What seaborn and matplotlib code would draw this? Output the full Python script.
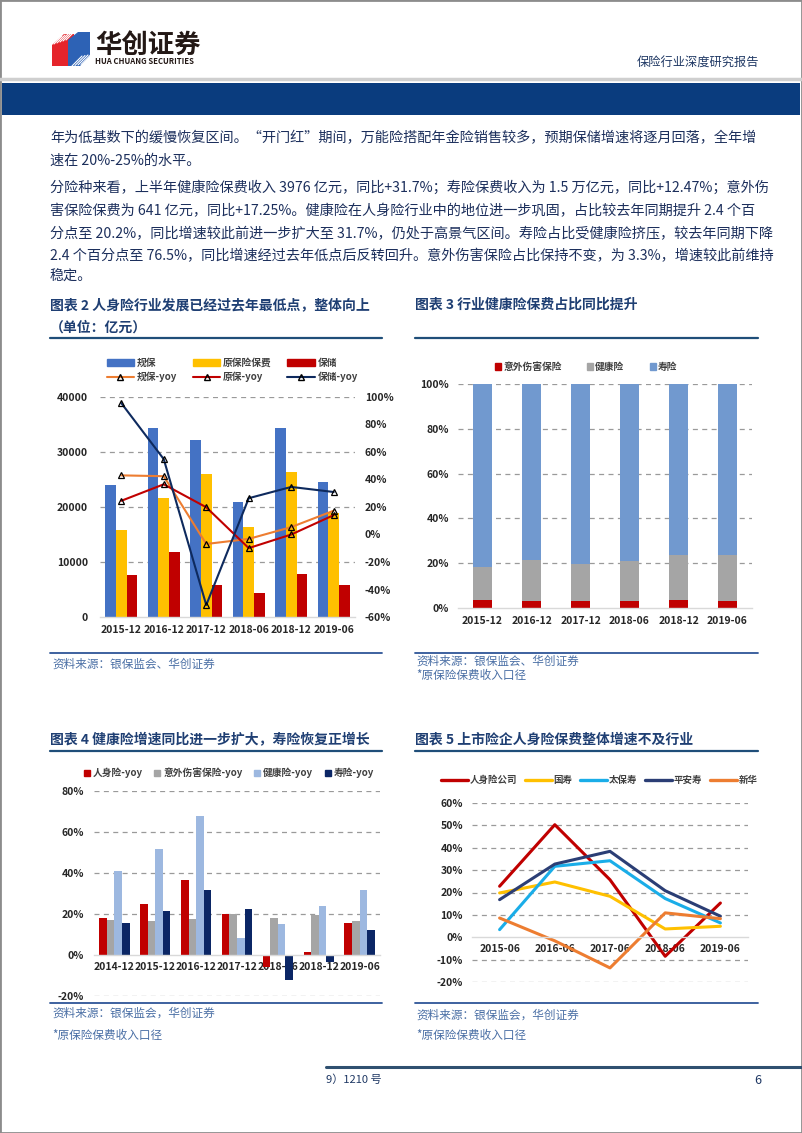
import numpy as np
import pandas as pd
import seaborn as sns
import matplotlib.pyplot as plt
from matplotlib.patches import Patch, Rectangle, Polygon
from matplotlib.lines import Line2D

sns.set_theme(style='white')
plt.rcParams['font.family'] = ['Noto Sans CJK SC', 'DejaVu Sans']
plt.rcParams['axes.unicode_minus'] = False

# ---- chart 2: 人身险行业 ----
periods2 = ['2015-12', '2016-12', '2017-12', '2018-06', '2018-12', '2019-06']
guibao = [24000, 34300, 32200, 20900, 34400, 24600]
yuanbao = [15800, 21700, 26000, 16300, 26400, 18900]
baochu = [7600, 11800, 5800, 4400, 7800, 5800]
guibao_yoy = [43.0, 42.4, -6.9, -3.2, 5.4, 17.3]
yuanbao_yoy = [24.5, 36.5, 19.8, -9.9, 0.0, 14.1]
baochu_yoy = [95.6, 54.8, -51.3, 26.4, 34.6, 30.9]

# ---- chart 3: 占比 ----
periods3 = ['2015-12', '2016-12', '2017-12', '2018-06', '2018-12', '2019-06']
share_acc = [3.7, 3.0, 3.0, 3.0, 3.7, 3.3]
share_health = [14.6, 18.3, 16.5, 17.8, 20.1, 20.2]
share_life = [81.7, 78.7, 80.5, 79.2, 76.2, 76.5]

# ---- chart 4: 分险种增速 ----
periods4 = ['2014-12', '2015-12', '2016-12', '2017-12', '2018-06', '2018-12', '2019-06']
renshen_yoy = [18.1, 25.0, 36.4, 20.1, -6.0, 1.6, 15.8]
yiwai_yoy = [17.1, 16.8, 17.6, 20.1, 18.0, 19.3, 16.8]
jiankang_yoy = [41.0, 51.9, 67.8, 8.3, 15.0, 24.0, 31.5]
shouxian_yoy = [15.5, 21.4, 31.5, 22.5, -12.2, -3.6, 12.2]

# ---- chart 5: 上市险企 ----
periods5 = ['2015-06', '2016-06', '2017-06', '2018-06', '2019-06']
co_all = [22.8, 50.3, 25.7, -8.5, 15.3]
guoshou = [19.8, 24.7, 18.3, 3.7, 4.9]
taibao = [3.4, 31.7, 34.2, 17.3, 6.4]
pingan = [16.8, 32.7, 38.4, 20.8, 9.4]
xinhua = [8.6, -1.6, -13.7, 10.9, 8.3]

body_lines = [
    '年为低基数下的缓慢恢复区间。“开门红”期间，万能险搭配年金险销售较多，预期保储增速将逐月回落，全年增',
    '速在 20%-25%的水平。',
    '分险种来看，上半年健康险保费收入 3976 亿元，同比+31.7%；寿险保费收入为 1.5 万亿元，同比+12.47%；意外伤',
    '害保险保费为 641 亿元，同比+17.25%。健康险在人身险行业中的地位进一步巩固，占比较去年同期提升 2.4 个百',
    '分点至 20.2%，同比增速较此前进一步扩大至 31.7%，仍处于高景气区间。寿险占比受健康险挤压，较去年同期下降',
    '2.4 个百分点至 76.5%，同比增速经过去年低点后反转回升。意外伤害保险占比保持不变，为 3.3%，增速较此前维持',
    '稳定。',
]
body_y = [138, 161, 188, 211, 234, 256, 277]

C_BLUE, C_YEL, C_RED, C_ORANGE = '#4472C4', '#FFC000', '#C00000', '#ED7D31'
C_NAVY = '#0E2A5E'
C_LIFE, C_GRAY, C_LB, C_NAVY4 = '#7199CF', '#A5A5A5', '#9DB8E0', '#0B2665'
C5 = ['#C00000', '#FFC000', '#1AADE8', '#2B3E75', '#ED7D31']
TITLE_C = '#1F3F73'
TXT_C = '#1C2F5C'
SRC_C = '#4A6FA5'
GRID_C = '#9A9A9A'
TICK_C = '#262626'

W, H = 802, 1133
fig = plt.figure(figsize=(W / 100, H / 100), dpi=100)


def fx(x):
    return x / W


def fy(y):
    return 1 - y / H


def add_ax(l, t, r, b):
    return fig.add_axes([l / W, 1 - b / H, (r - l) / W, (b - t) / H])


def hline(x0, x1, y, color, lw):
    fig.add_artist(Line2D([fx(x0), fx(x1)], [fy(y), fy(y)], color=color, lw=lw,
                          transform=fig.transFigure))


def ftext(x, y, s, **kw):
    fig.text(fx(x), fy(y), s, va='center', **kw)


def style_axis(ax, grid_vals, xpad=5, ypad=6):
    ax.set_axisbelow(True)
    for v in grid_vals:
        ax.axhline(v, color=GRID_C, lw=0.9, ls=(0, (4, 3.5)), zorder=0)
    for s in ['top', 'right', 'left']:
        ax.spines[s].set_visible(False)
    ax.spines['bottom'].set_color('#D9D9D9')
    ax.spines['bottom'].set_linewidth(1)
    ax.tick_params(axis='x', length=0, pad=xpad, labelsize=7.5, colors=TICK_C)
    ax.tick_params(axis='y', length=0, pad=ypad, labelsize=7.5, colors=TICK_C)
    ax.set_xlabel('')
    ax.set_ylabel('')
    for lab in ax.get_xticklabels() + ax.get_yticklabels():
        lab.set_fontweight('bold')


# ================= page frame / header =================
fig.add_artist(Rectangle((0, 0), 1, 1, transform=fig.transFigure, fill=False,
                         edgecolor='#8C8C8C', lw=2))
hline(0, W, 79, '#CFCFCF', 2.5)
fig.add_artist(Rectangle((fx(2), fy(115)), fx(800) - fx(2), fy(83) - fy(115),
                         transform=fig.transFigure, color='#0A3C7E', lw=0))

# logo
logo_red = [(52, 45), (64, 34), (74, 34), (74, 66), (52, 66)]
logo_blue = [(68, 40), (78, 32), (90, 32), (90, 56), (80, 66), (68, 66)]
for pts, col in [(logo_red, '#E5242B'), (logo_blue, '#2D62B5')]:
    fig.add_artist(Polygon([(fx(a), fy(b)) for a, b in pts], closed=True,
                           transform=fig.transFigure, color=col, lw=0))
for k in range(5):
    fig.add_artist(Line2D([fx(54 + 3 * k), fx(62 + 3 * k)], [fy(44 - k), fy(36 - k)],
                          color='white', lw=0.8, transform=fig.transFigure))
    fig.add_artist(Line2D([fx(72 + 3 * k), fx(82 + 3 * k)], [fy(66 - k * 0.5), fy(56 - k * 0.5)],
                          color='white', lw=0.8, transform=fig.transFigure))
ftext(95, 45, '华创证券', fontsize=19, fontweight='bold', color='#231815')
ftext(95, 62, 'HUA CHUANG SECURITIES', fontsize=5.6, fontweight='bold', color='#231815')
ftext(637, 63, '保险行业深度研究报告', fontsize=8.8, color='#1F3864')

# body text
for s, y in zip(body_lines, body_y):
    ftext(50, y, s, fontsize=10.2, color=TXT_C)

# titles and rules
ftext(50, 305, '图表 2 人身险行业发展已经过去年最低点，整体向上', fontsize=10,
      fontweight='bold', color=TITLE_C)
ftext(50, 328, '（单位：亿元）', fontsize=10, fontweight='bold', color=TITLE_C)
ftext(415, 305, '图表 3 行业健康险保费占比同比提升', fontsize=10, fontweight='bold', color=TITLE_C)
ftext(50, 740, '图表 4 健康险增速同比进一步扩大，寿险恢复正增长', fontsize=10,
      fontweight='bold', color=TITLE_C)
ftext(415, 740, '图表 5 上市险企人身险保费整体增速不及行业', fontsize=10,
      fontweight='bold', color=TITLE_C)
hline(50, 382, 338, '#1F4E79', 1.6)
hline(415, 758, 338, '#1F4E79', 1.6)
hline(50, 382, 751, '#1F4E79', 1.6)
hline(415, 758, 751, '#1F4E79', 1.6)
hline(50, 382, 653, '#2E5597', 1.3)
hline(415, 758, 653, '#2E5597', 1.3)
hline(50, 382, 1003, '#2E5597', 1.3)
hline(415, 758, 1003, '#2E5597', 1.3)

ftext(52, 664, '资料来源：银保监会、华创证券', fontsize=8.4, color=SRC_C)
ftext(416, 661, '资料来源：银保监会、华创证券', fontsize=8.4, color=SRC_C)
ftext(416, 676, '*原保险保费收入口径', fontsize=8.4, color=SRC_C)
ftext(52, 1013, '资料来源：银保监会，华创证券', fontsize=8.4, color=SRC_C)
ftext(52, 1035, '*原保险保费收入口径', fontsize=8.4, color=SRC_C)
ftext(416, 1015, '资料来源：银保监会，华创证券', fontsize=8.4, color=SRC_C)
ftext(416, 1035, '*原保险保费收入口径', fontsize=8.4, color=SRC_C)

# footer
hline(326, W, 1067, '#2F5070', 2.2)
ftext(326, 1080, '9）1210 号', fontsize=8, color='#1F3864')
ftext(754, 1080, '6', fontsize=9, color='#1F3864')

# ================= chart 2 =================
ax2 = add_ax(100, 397, 355, 617)
df2 = pd.DataFrame({
    'period': periods2 * 3,
    'value': guibao + yuanbao + baochu,
    'series': ['规保'] * 6 + ['原保险保费'] * 6 + ['保储'] * 6,
})
sns.barplot(data=df2, x='period', y='value', hue='series',
            palette=[C_BLUE, C_YEL, C_RED], width=0.75, saturation=1,
            linewidth=0, legend=False, ax=ax2)
ax2.set_ylim(0, 40000)
ax2.set_yticks([0, 10000, 20000, 30000, 40000],
               labels=['0', '10000', '20000', '30000', '40000'])
style_axis(ax2, [10000, 20000, 30000, 40000], xpad=6, ypad=8.5)

ax2r = ax2.twinx()
for vals, col in [(guibao_yoy, C_ORANGE), (yuanbao_yoy, C_RED), (baochu_yoy, C_NAVY)]:
    sns.pointplot(x=periods2, y=vals, color=col, markers='^', errorbar=None,
                  linewidth=1.5, markersize=4.5, ax=ax2r)
for ln in ax2r.lines:
    ln.set_markerfacecolor('none')
    ln.set_markeredgecolor('black')
    ln.set_markeredgewidth(0.9)
ax2r.set_ylim(-60, 100)
yt = list(range(-60, 101, 20))
ax2r.set_yticks(yt, labels=[f'{v}%' for v in yt])
for s in ax2r.spines.values():
    s.set_visible(False)
ax2r.tick_params(axis='y', length=0, pad=7, labelsize=7.5, colors=TICK_C)
ax2r.set_ylabel('')
ax2r.set_xlabel('')
ax2.set_xlabel('')
for lab in ax2r.get_yticklabels():
    lab.set_fontweight('bold')

h2 = [
    Patch(color=C_BLUE), Line2D([], [], color=C_ORANGE, lw=1.5, marker='^', mfc='none', mec='black', ms=4.5),
    Patch(color=C_YEL), Line2D([], [], color=C_RED, lw=1.5, marker='^', mfc='none', mec='black', ms=4.5),
    Patch(color=C_RED), Line2D([], [], color=C_NAVY, lw=1.5, marker='^', mfc='none', mec='black', ms=4.5),
]
l2 = ['规保', '规保-yoy', '原保险保费', '原保-yoy', '保储', '保储-yoy']
fig.legend(h2, l2, loc='center left', bbox_to_anchor=(fx(102), fy(370)), ncol=3,
           frameon=False, borderpad=0, handlelength=2.8, handleheight=0.7,
           handletextpad=0.3, columnspacing=1.6, labelspacing=0.35,
           prop=dict(size=7, weight='bold'), labelcolor='#404040')

# ================= chart 3 =================
ax3 = add_ax(458, 384, 752, 608)
cum_health = [a + h for a, h in zip(share_acc, share_health)]
cum_life = [c + l for c, l in zip(cum_health, share_life)]
for vals, col in [(cum_life, C_LIFE), (cum_health, C_GRAY), (share_acc, C_RED)]:
    sns.barplot(x=periods3, y=vals, color=col, width=0.38, saturation=1,
                linewidth=0, ax=ax3)
ax3.set_ylim(0, 100)
yt3 = list(range(0, 101, 20))
ax3.set_yticks(yt3, labels=[f'{v}%' for v in yt3])
style_axis(ax3, [20, 40, 60, 80, 100], xpad=6, ypad=6.5)
h3 = [Patch(color=C_RED), Patch(color=C_GRAY), Patch(color=C_LIFE)]
fig.legend(h3, ['意外伤害保险', '健康险', '寿险'], loc='center left',
           bbox_to_anchor=(fx(490), fy(367)), ncol=3, frameon=False, borderpad=0,
           handlelength=0.6, handleheight=0.6, handletextpad=0.25, columnspacing=2.6,
           prop=dict(size=7, weight='bold'), labelcolor='#404040')

# ================= chart 4 =================
ax4 = add_ax(94, 791, 380, 996)
df4 = pd.DataFrame({
    'period': periods4 * 4,
    'value': renshen_yoy + yiwai_yoy + jiankang_yoy + shouxian_yoy,
    'series': ['人身险-yoy'] * 7 + ['意外伤害保险-yoy'] * 7 + ['健康险-yoy'] * 7 + ['寿险-yoy'] * 7,
})
sns.barplot(data=df4, x='period', y='value', hue='series',
            palette=[C_RED, C_GRAY, C_LB, C_NAVY4], width=0.74, saturation=1,
            linewidth=0, legend=False, ax=ax4)
ax4.set_ylim(-20, 80)
yt4 = list(range(-20, 81, 20))
ax4.set_yticks(yt4, labels=[f'{v}%' for v in yt4])
ax4.spines['bottom'].set_position(('data', 0))
style_axis(ax4, [-20, 20, 40, 60, 80], xpad=5, ypad=7)
h4 = [Patch(color=c) for c in [C_RED, C_GRAY, C_LB, C_NAVY4]]
fig.legend(h4, ['人身险-yoy', '意外伤害保险-yoy', '健康险-yoy', '寿险-yoy'], loc='center left',
           bbox_to_anchor=(fx(79), fy(773)), ncol=4, frameon=False, borderpad=0,
           handlelength=0.6, handleheight=0.6, handletextpad=0.3, columnspacing=1.2,
           prop=dict(size=7, weight='bold'), labelcolor='#404040')

# ================= chart 5 =================
ax5 = add_ax(472, 803, 748, 982)
names5 = ['人身险公司', '国寿', '太保寿', '平安寿', '新华']
df5 = pd.DataFrame({
    'period': periods5 * 5,
    'value': co_all + guoshou + taibao + pingan + xinhua,
    'series': sum([[n] * 5 for n in names5], []),
})
sns.lineplot(data=df5, x='period', y='value', hue='series', palette=C5,
             linewidth=2.2, legend=False, sort=False, ax=ax5)
ax5.set_xlim(-0.5, len(periods5) - 0.5)
ax5.set_xticks(range(len(periods5)), labels=periods5)
ax5.set_ylim(-20, 60)
yt5 = list(range(-20, 61, 10))
ax5.set_yticks(yt5, labels=[f'{v}%' for v in yt5])
ax5.spines['bottom'].set_position(('data', 0))
style_axis(ax5, [v for v in yt5 if v != 0], xpad=5, ypad=6.5)
h5 = [Line2D([], [], color=c, lw=2.4) for c in C5]
fig.legend(h5, names5, loc='center left', bbox_to_anchor=(fx(436), fy(780)), ncol=5,
           frameon=False, borderpad=0, handlelength=2.9, handletextpad=0.15,
           columnspacing=0.8, prop=dict(size=6.8, weight='bold'), labelcolor='#404040')

fig.savefig('out.png', dpi=100)
